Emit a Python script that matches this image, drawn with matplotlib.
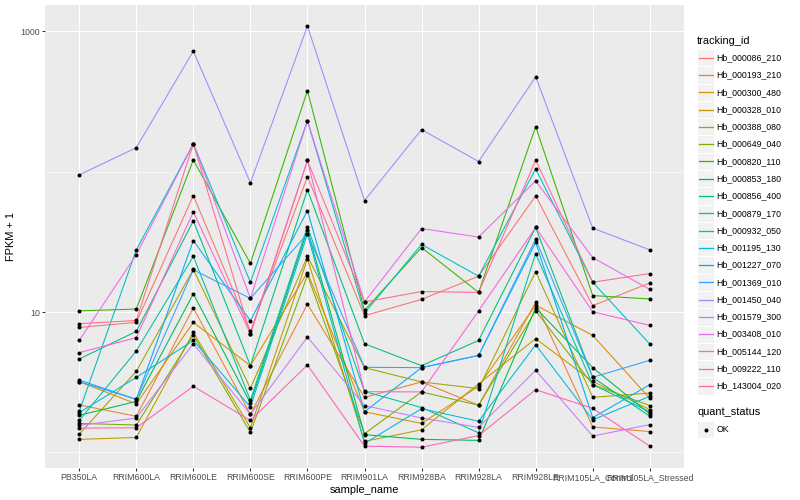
import numpy as np
import matplotlib
matplotlib.use("Agg")
import matplotlib.pyplot as plt
from matplotlib.patches import Rectangle
from matplotlib.ticker import FixedLocator, FixedFormatter, NullFormatter

plt.rcParams['font.family'] = ['Liberation Sans', 'DejaVu Sans']

# samples on the x axis
samples = ["PB350LA", "RRIM600LA", "RRIM600LE", "RRIM600SE", "RRIM600PE",
           "RRIM901LA", "RRIM928BA", "RRIM928LA", "RRIM928LE",
           "RRIM105LA_Control", "RRIM105LA_Stressed"]

tracking_ids = ["Hb_000086_210", "Hb_000193_210", "Hb_000300_480", "Hb_000328_010",
                "Hb_000388_080", "Hb_000649_040", "Hb_000820_110", "Hb_000853_180",
                "Hb_000856_400", "Hb_000879_170", "Hb_000932_050", "Hb_001195_130",
                "Hb_001227_070", "Hb_001369_010", "Hb_001450_040", "Hb_001579_300",
                "Hb_003408_010", "Hb_005144_120", "Hb_009222_110", "Hb_143004_020"]

# ggplot hue palette, 20 levels
colors = ["#F8766D", "#EA8331", "#D89000", "#C09B00", "#A3A500", "#7CAE00", "#39B600",
          "#00BB4E", "#00BF7D", "#00C1A3", "#00BFC4", "#00BAE0", "#00B0F6", "#35A2FF",
          "#9590FF", "#C77CFF", "#E76BF3", "#FA62DB", "#FF62BC", "#FF6C91"]

# FPKM + 1 per gene, one value per sample
hb_000086_210 = [7.77, 8.44, 67.5, 7.28, 92.1, 9.42, 12.3, 18.0, 67.2, 11.1, 16.1]
hb_000193_210 = [2.18, 1.81, 10.7, 1.87, 11.4, 2.47, 3.18, 2.17, 11.7, 1.52, 1.41]
hb_000300_480 = [3.19, 2.22, 8.44, 4.15, 19.1, 1.95, 1.61, 2.96, 11.2, 6.82, 2.43]
hb_000328_010 = [1.24, 1.28, 7.16, 1.50, 23.9, 1.20, 1.45, 3.08, 6.46, 3.21, 2.02]
hb_000388_080 = [1.35, 3.78, 20.1, 2.86, 24.9, 4.02, 3.18, 2.85, 19.4, 2.47, 2.65]
hb_000649_040 = [1.61, 1.57, 6.86, 1.39, 18.3, 1.36, 2.70, 2.17, 10.2, 3.04, 2.16]
hb_000820_110 = [10.2, 10.5, 121, 22.2, 377, 10.3, 28.8, 13.8, 209, 13.1, 12.4]
hb_000853_180 = [1.84, 2.31, 13.5, 2.25, 38.5, 1.34, 1.24, 1.22, 10.7, 4.02, 1.88]
hb_000856_400 = [4.63, 7.28, 44.6, 4.15, 74.2, 5.95, 4.15, 6.28, 40.0, 3.43, 1.81]
hb_000879_170 = [1.69, 5.28, 24.9, 2.35, 40.6, 2.72, 2.09, 1.38, 26.1, 3.04, 1.95]
hb_000932_050 = [1.96, 27.7, 158, 16.3, 230, 9.84, 30.3, 18.0, 104.5, 16.3, 5.92]
hb_001195_130 = [1.92, 3.43, 6.28, 2.11, 36.1, 1.16, 2.05, 1.67, 5.85, 1.71, 2.51]
hb_001227_070 = [3.28, 2.39, 32.3, 8.67, 52.8, 1.95, 4.02, 4.91, 31.3, 1.77, 3.04]
hb_001369_010 = [3.19, 2.39, 20.0, 12.5, 36.1, 4.04, 4.02, 4.91, 33.0, 3.43, 4.53]
hb_001450_040 = [94.8, 148, 721, 83.2, 1087, 62.2, 199, 118, 472, 39.6, 27.7]
hb_001579_300 = [1.56, 1.76, 5.95, 1.87, 6.64, 2.16, 1.76, 1.51, 3.85, 1.31, 1.58]
hb_003408_010 = [6.28, 25.6, 158, 12.5, 230, 11.8, 39.3, 34.2, 85.9, 24.4, 14.5]
hb_005144_120 = [5.14, 6.57, 51.7, 7.01, 120, 2.71, 2.70, 10.2, 40.0, 10.05, 8.03]
hb_009222_110 = [1.49, 1.50, 2.96, 1.69, 4.20, 1.11, 1.09, 1.32, 2.80, 2.06, 1.11]
hb_143004_020 = [8.26, 8.71, 158, 7.01, 120, 11.8, 14.0, 13.8, 120.5, 16.3, 18.8]

series = [hb_000086_210, hb_000193_210, hb_000300_480, hb_000328_010, hb_000388_080,
          hb_000649_040, hb_000820_110, hb_000853_180, hb_000856_400, hb_000879_170,
          hb_000932_050, hb_001195_130, hb_001227_070, hb_001369_010, hb_001450_040,
          hb_001579_300, hb_003408_010, hb_005144_120, hb_009222_110, hb_143004_020]

W, H = 800, 500
fig = plt.figure(figsize=(W / 72, H / 72), dpi=72)
ax = fig.add_axes([45 / W, 1 - 468.3 / H, (684 - 45) / W, (468.3 - 5) / H])
ax.set_facecolor('#EBEBEB')
for s in ax.spines.values():
    s.set_visible(False)

x = np.arange(len(samples))
for vals, col in zip(series, colors):
    ax.plot(x, vals, color=col, lw=1.07, zorder=2)
for vals in series:
    ax.plot(x, vals, 'o', color='black', ms=4, mec='none', zorder=3)

# log y scale with ggplot-like 5% expansion
ax.set_yscale('log')
logs = np.log10(np.concatenate([np.array(v, float) for v in series]))
lo, hi = logs.min(), logs.max()
pad = 0.05 * (hi - lo)
ax.set_ylim(10 ** (lo - pad), 10 ** (hi + pad))
ax.set_xlim(-0.6, len(samples) - 1 + 0.6)

ax.yaxis.set_major_locator(FixedLocator([10, 1000]))
ax.yaxis.set_major_formatter(FixedFormatter(["10", "1000"]))
ax.yaxis.set_minor_locator(FixedLocator([1, 100]))
ax.yaxis.set_minor_formatter(NullFormatter())
ax.set_xticks(x)
ax.set_xticklabels(samples)

ax.grid(which='major', color='white', lw=1.07, zorder=0)
ax.grid(which='minor', axis='y', color='white', lw=0.53, zorder=0)
ax.set_axisbelow(True)
ax.tick_params(which='major', color='#333333', length=2.75, width=1.07,
               labelcolor='#4D4D4D', labelsize=8.8, pad=2.2)
ax.tick_params(which='minor', length=0)

ax.set_xlabel("sample_name", fontsize=11, labelpad=3)
ax.set_ylabel("FPKM + 1", fontsize=11, labelpad=4)

# legend drawn by hand in pixel coordinates
lax = fig.add_axes([0, 0, 1, 1], zorder=-1)
lax.set_xlim(0, W)
lax.set_ylim(H, 0)
lax.axis('off')

key = 17.28
kx = 697
lax.text(kx, 41, "tracking_id", fontsize=11, va='center', ha='left')
for i, (tid, col) in enumerate(zip(tracking_ids, colors)):
    yc = 57.7 + key * i
    lax.add_patch(Rectangle((kx, yc - key / 2), key, key, facecolor='#F2F2F2',
                            edgecolor='white', lw=1))
    lax.plot([kx + 1.7, kx + key - 1.7], [yc, yc], color=col, lw=1.3)
    lax.text(kx + 19.5, yc, tid, fontsize=8.8, va='center', ha='left')

lax.text(kx, 412.3, "quant_status", fontsize=11, va='center', ha='left')
yc = 429.5
lax.add_patch(Rectangle((kx, yc - key / 2), key, key, facecolor='#F2F2F2',
                        edgecolor='white', lw=1))
lax.plot([kx + key / 2], [yc], 'o', color='black', ms=4, mec='none')
lax.text(kx + 19.5, yc, "OK", fontsize=8.8, va='center', ha='left')

fig.savefig("out.png", dpi=72)
